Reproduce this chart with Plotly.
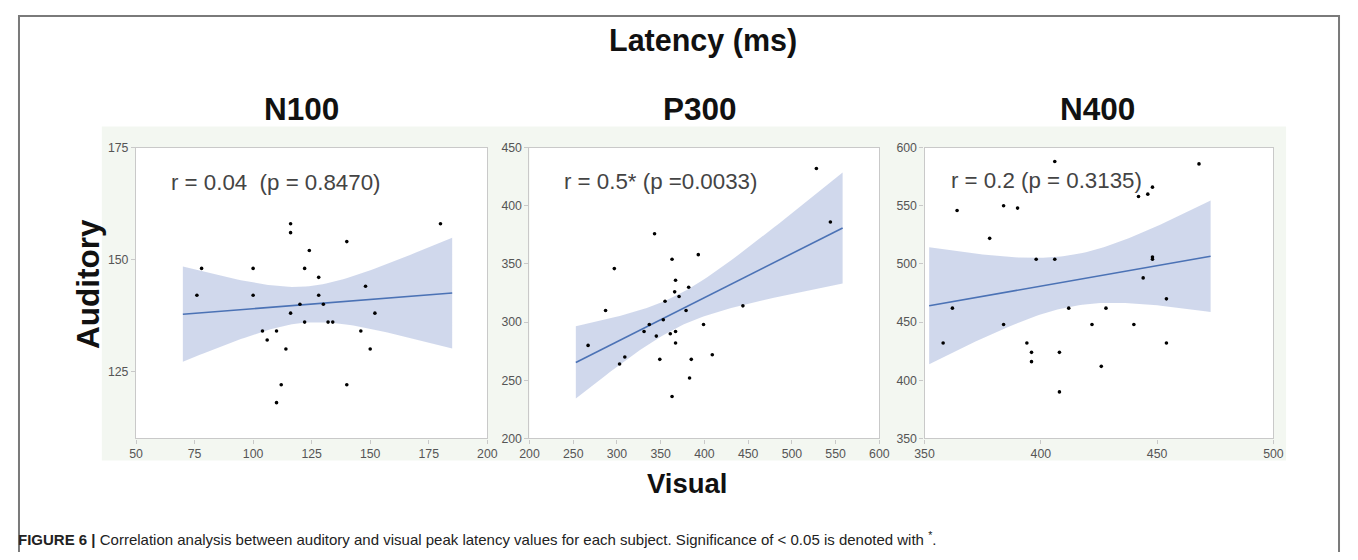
import numpy as np
import plotly.graph_objects as go

# values (visual vs auditory peak latency, ms)
n100_visual = [76, 78, 100, 100, 104, 106, 110, 110, 112, 114, 116, 116, 116, 120, 122,
               122, 124, 128, 128, 130, 132, 134, 140, 140, 146, 148, 150, 152, 180]
n100_auditory = [142, 148, 148, 142, 134, 132, 134, 118, 122, 130, 158, 156, 138, 140, 148,
                 136, 152, 146, 142, 140, 136, 136, 154, 122, 134, 144, 130, 138, 158]

p300_visual = [267, 287, 297, 303, 309, 331, 337, 343, 345, 349, 353, 355, 361, 363, 363,
               366, 367, 367, 367, 371, 379, 382, 383, 385, 393, 399, 409, 444, 528, 544]
p300_auditory = [280, 310, 346, 264, 270, 292, 298, 376, 288, 268, 302, 318, 290, 354, 236,
                 326, 336, 292, 282, 322, 310, 330, 252, 268, 358, 298, 272, 314, 432, 386]

n400_visual = [358, 362, 364, 378, 384, 384, 390, 394, 396, 396, 398, 406, 406, 408, 408,
               412, 422, 426, 428, 440, 442, 444, 446, 448, 448, 448, 454, 454, 468]
n400_auditory = [432, 462, 546, 522, 550, 448, 548, 432, 424, 416, 504, 588, 504, 424, 390,
                 462, 448, 412, 462, 448, 558, 488, 560, 566, 506, 504, 470, 432, 586]

panel_titles = ["N100", "P300", "N400"]
stat_labels = ["r = 0.04  (p = 0.8470)", "r = 0.5* (p =0.0033)", "r = 0.2 (p = 0.3135)"]
fit_ranges = [(70, 185), (253, 558), (352, 473)]
x_ranges = [(50, 200), (200, 600), (350, 500)]
y_ranges = [(110, 175), (200, 450), (350, 600)]
x_ticks = [list(range(50, 201, 25)), list(range(200, 601, 50)), list(range(350, 501, 50))]
y_ticks = [[125, 150, 175], list(range(200, 451, 50)), list(range(350, 601, 50))]

T_CRIT = 2.05  # ~95% two-sided, df around 27

# The html body keeps an 8px margin, so the figure is 16px smaller than the page.
# The returned picture also sits the page inside an 8px border, shrunk to fit,
# so target positions (in picture pixels) are converted back to figure paper units.
PAD = 8
FW, FH = 1358 - 2 * PAD, 560 - 2 * PAD
SX, SY = FW / 1358, FH / 560


def px(x):
    return ((x - PAD) / SX - PAD) / FW


def py(y):
    return 1 - ((y - PAD) / SY - PAD) / FH


x_domains = [(px(134.3), px(486.7)), (px(529), px(880)), (px(925.3), px(1275.3))]
y_domain = (py(438), py(148))

LINE_BLUE = "#4b72b5"
BAND = "rgba(150,168,212,0.45)"


def fit_with_ci(x, y, lo, hi):
    x = np.asarray(x, float)
    y = np.asarray(y, float)
    n = len(x)
    b, a = np.polyfit(x, y, 1)
    resid = y - (a + b * x)
    s = np.sqrt(np.sum(resid ** 2) / (n - 2))
    sxx = np.sum((x - x.mean()) ** 2)
    xs = np.linspace(lo, hi, 80)
    ys = a + b * xs
    se = s * np.sqrt(1 / n + (xs - x.mean()) ** 2 / sxx)
    return xs, ys, ys - T_CRIT * se, ys + T_CRIT * se


datasets = [
    (n100_visual, n100_auditory),
    (p300_visual, p300_auditory),
    (n400_visual, n400_auditory),
]

fig = go.Figure()

for i, (vx, vy) in enumerate(datasets):
    xa = "x" if i == 0 else f"x{i + 1}"
    ya = "y" if i == 0 else f"y{i + 1}"
    xs, ys, lower, upper = fit_with_ci(vx, vy, *fit_ranges[i])

    # confidence band as one closed polygon
    fig.add_trace(go.Scatter(
        x=np.concatenate([xs, xs[::-1]]),
        y=np.concatenate([upper, lower[::-1]]),
        fill="toself", fillcolor=BAND, line=dict(width=0),
        mode="lines", hoverinfo="skip", showlegend=False,
        xaxis=xa, yaxis=ya,
    ))
    fig.add_trace(go.Scatter(
        x=xs, y=ys, mode="lines", line=dict(color=LINE_BLUE, width=1.6),
        showlegend=False, xaxis=xa, yaxis=ya,
    ))
    fig.add_trace(go.Scatter(
        x=vx, y=vy, mode="markers",
        marker=dict(color="black", size=3.6),
        showlegend=False, xaxis=xa, yaxis=ya,
    ))

axis_common = dict(
    showgrid=False, zeroline=False, showline=True, mirror=True,
    linecolor="#c9c9c9", linewidth=1.2, ticks="outside", ticklen=4,
    tickcolor="#c9c9c9", tickfont=dict(family="Liberation Sans", size=12.3, color="#555"),
)

layout_axes = {}
for i in range(3):
    sfx = "" if i == 0 else str(i + 1)
    layout_axes[f"xaxis{sfx}"] = dict(
        axis_common, domain=list(x_domains[i]), range=list(x_ranges[i]),
        tickvals=x_ticks[i], anchor=f"y{sfx}",
    )
    layout_axes[f"yaxis{sfx}"] = dict(
        axis_common, domain=list(y_domain), range=list(y_ranges[i]),
        tickvals=y_ticks[i], anchor=f"x{sfx}",
    )

fig.update_layout(
    width=FW, height=FH,
    margin=dict(l=0, r=0, t=0, b=0),
    paper_bgcolor="white", plot_bgcolor="white",
    font=dict(family="Liberation Sans", color="#111"),
    **layout_axes,
)

# outer frame, the pale panel background, then white plot areas on top of it
fig.add_shape(type="rect", xref="paper", yref="paper",
              x0=1 / FW, x1=1 - 1 / FW, y0=-0.1, y1=1 - 1 / FH,
              line=dict(color="#7a7a7a", width=2), layer="below")
fig.add_shape(type="rect", xref="paper", yref="paper",
              x0=px(100), x1=px(1288), y0=py(460), y1=py(127),
              fillcolor="#f3f7f1", line=dict(width=0), layer="below")
for i in range(3):
    sfx = "" if i == 0 else str(i + 1)
    fig.add_shape(type="rect", xref=f"x{sfx} domain", yref=f"y{sfx} domain",
                  x0=0, x1=1, y0=0, y1=1, fillcolor="white",
                  line=dict(width=0), layer="below")

ann = []
ann.append(dict(text="<b>Latency (ms)</b>", x=px(703), y=py(41),
                font=dict(size=30.5, color="#111")))
for i, cx in enumerate([300, 700, 1099]):
    ann.append(dict(text=f"<b>{panel_titles[i]}</b>", x=px(cx), y=py(109),
                    font=dict(size=31.5, color="#111")))
for i, (lx, ly) in enumerate([(167, 183), (562, 182), (950, 181)]):
    ann.append(dict(text=stat_labels[i], x=px(lx), y=py(ly), xanchor="left",
                    font=dict(size=22.3, color="#444")))
ann.append(dict(text="<b>Auditory</b>", x=px(86), y=py(284), textangle=-90,
                font=dict(size=31.5, color="#111")))
ann.append(dict(text="<b>Visual</b>", x=px(688), y=py(483),
                font=dict(size=27.5, color="#111")))
ann.append(dict(
    text="<b>FIGURE 6 |</b> Correlation analysis between auditory and visual peak latency "
         "values for each subject. Significance of &lt; 0.05 is denoted with <sup>*</sup>.",
    x=px(14), y=py(538), xanchor="left", font=dict(size=15, color="#222")))

for a in ann:
    a.setdefault("xanchor", "center")
    a.update(xref="paper", yref="paper", yanchor="middle", showarrow=False)
fig.update_layout(annotations=ann)

fig.write_html("out.html")
